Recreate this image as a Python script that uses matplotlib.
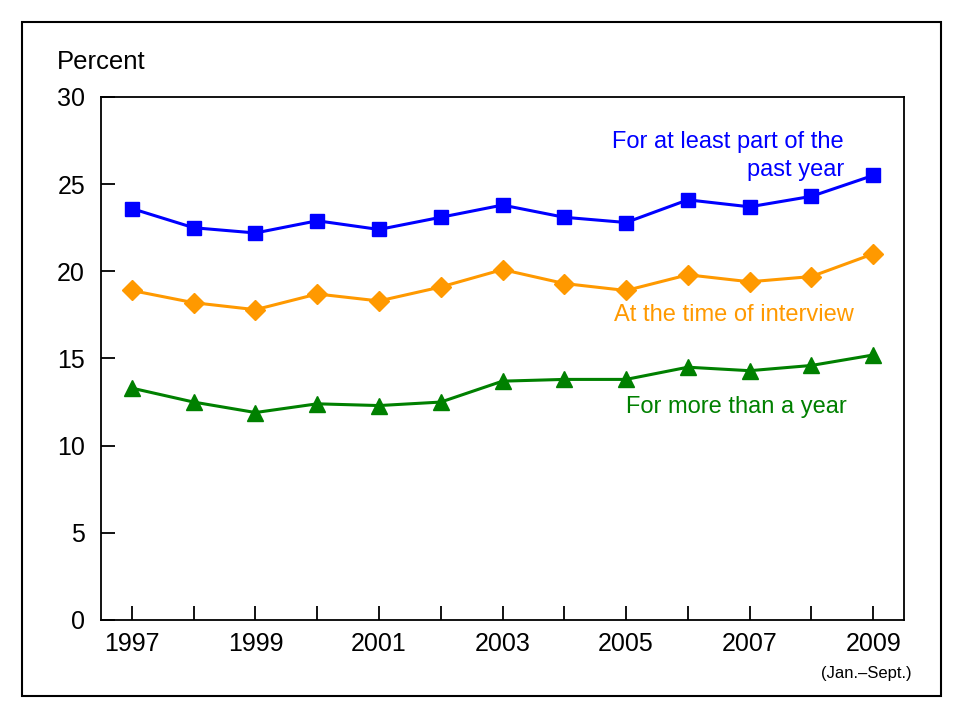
import matplotlib.pyplot as plt
from matplotlib.patches import Rectangle

plt.rcParams['font.family'] = ['Liberation Sans', 'DejaVu Sans']

years = list(range(1997, 2010))
past_year = [23.6, 22.5, 22.2, 22.9, 22.4, 23.1, 23.8, 23.1, 22.8, 24.1, 23.7, 24.3, 25.5]
at_interview = [18.9, 18.2, 17.8, 18.7, 18.3, 19.1, 20.1, 19.3, 18.9, 19.8, 19.4, 19.7, 21.0]
more_than_year = [13.3, 12.5, 11.9, 12.4, 12.3, 12.5, 13.7, 13.8, 13.8, 14.5, 14.3, 14.6, 15.2]
tick_years = [1997, 1999, 2001, 2003, 2005, 2007, 2009]

fig = plt.figure(figsize=(9.6, 7.2), dpi=100)
ax = fig.add_axes([0.1052, 0.1389, 0.8365, 0.7264])

ax.plot(years, past_year, color='#0000FF', lw=2.2, marker='s', ms=10)
ax.plot(years, at_interview, color='#FF9900', lw=2.2, marker='D', ms=10)
ax.plot(years, more_than_year, color='#008000', lw=2.2, marker='^', ms=11)

ax.set_xlim(1996.5, 2009.5)
ax.set_ylim(0, 30)
ax.set_yticks([0, 5, 10, 15, 20, 25, 30])
ax.set_xticks(years)
ax.set_xticklabels([str(y) if y in tick_years else '' for y in years])
ax.tick_params(direction='in', length=10, width=1.3, labelsize=18, pad=9)
ax.tick_params(axis='y', pad=11.5)
for s in ax.spines.values():
    s.set_linewidth(1.3)

fig.text(0.059, 0.914, 'Percent', fontsize=18.5, va='center')
fig.text(0.95, 0.065, '(Jan.\u2013Sept.)', fontsize=12, ha='right', va='center')

ax.text(2008.53, 25.2, 'For at least part of the\npast year', color='#0000FF',
        fontsize=17, ha='right', va='bottom', linespacing=1.35)
ax.text(2006.75, 17.5, 'At the time of interview', color='#FF9900',
        fontsize=17, ha='center', va='center')
ax.text(2006.78, 12.2, 'For more than a year', color='#008000',
        fontsize=17, ha='center', va='center')

fig.patches.append(Rectangle((0.023, 0.033), 0.957, 0.937, transform=fig.transFigure,
                             fill=False, edgecolor='black', lw=1.5))

fig.savefig('out.png', dpi=100)
